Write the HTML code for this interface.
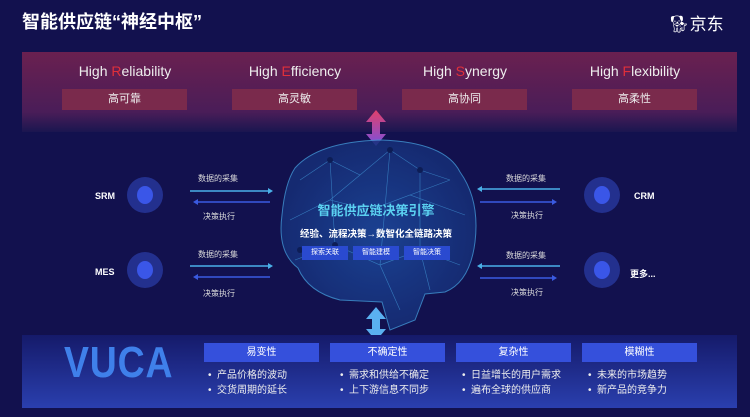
<!DOCTYPE html>
<html><head><meta charset="utf-8"><style>
*{margin:0;padding:0;box-sizing:border-box}
body{width:750px;height:417px;overflow:hidden;background:#12114e;font-family:"Liberation Sans","Noto Sans CJK SC",sans-serif;color:#fff;position:relative}
.a{position:absolute}
.top{left:22px;top:52px;width:715px;height:80px;background:linear-gradient(#6a2050,#4a1d58 75%,#1a1650)}
.h{top:63px;width:150px;text-align:center;font-size:14px;color:#eee}
.h b{color:#e0303a;font-weight:normal}
.tb{top:89px;width:125px;height:21px;background:#7a2a4c;font-size:11px;text-align:center;line-height:21px;color:#eee}
.bot{left:22px;top:335px;width:715px;height:73px;background:linear-gradient(#151a6a,#2a3fae)}
.bb{top:343px;width:115px;height:19px;background:#3550dc;font-size:10px;text-align:center;line-height:19px}
.bl{font-size:10px;line-height:15px;color:#eee}
.c{width:36px;height:36px;border-radius:50%;background:#23308e}
.c:after{content:"";position:absolute;left:10px;top:9px;width:16px;height:18px;border-radius:50%;background:#3a56e8}
.lab{font-size:9px;font-weight:bold}
.s{font-size:8px;color:#ddd}
</style></head><body>
<div class="a" style="left:22px;top:8px;font-size:18px;font-weight:bold">智能供应链“神经中枢”</div>
<div class="a" style="left:668px;top:10px;font-size:17px;color:#fff">🐕&#xFE0E;京东</div>
<div class="a top"></div>
<div class="a h" style="left:50px">High <b>R</b>eliability</div>
<div class="a h" style="left:220px">High <b>E</b>fficiency</div>
<div class="a h" style="left:390px">High <b>S</b>ynergy</div>
<div class="a h" style="left:560px">High <b>F</b>lexibility</div>
<div class="a tb" style="left:62px">高可靠</div>
<div class="a tb" style="left:232px">高灵敏</div>
<div class="a tb" style="left:402px">高协同</div>
<div class="a tb" style="left:572px">高柔性</div>
<svg class="a" style="left:0;top:0" width="750" height="417">
<defs><linearGradient id="g1" x1="0" y1="0" x2="0" y2="1"><stop offset="0" stop-color="#e0406a"/><stop offset="1" stop-color="#7a50e0"/></linearGradient>
<radialGradient id="br" cx=".5" cy=".5" r=".5"><stop offset="0" stop-color="#1d4a9e"/><stop offset="1" stop-color="#162f78"/></radialGradient></defs>
<path d="M376 110 L366 122 L372 122 L372 134 L366 134 L376 146 L386 134 L380 134 L380 122 L386 122Z" fill="url(#g1)"/>
<path d="M376 307 L366 319 L372 319 L372 329 L366 329 L376 341 L386 329 L380 329 L380 319 L386 319Z" fill="#5ab0f0"/>
<path d="M295 168 Q318 142 380 140 Q445 142 460 172 Q480 200 475 242 Q470 282 445 292 L425 294 L415 320 L390 330 L382 302 L340 300 Q308 292 298 268 Q277 252 282 215 Q285 183 295 168Z" fill="url(#br)" stroke="#3f90d0" stroke-width="1" opacity=".85"/>
<g stroke="#4aa8e8" stroke-width=".6" fill="none" opacity=".6">
<path d="M300 180 L330 160 L360 175 L390 150 L420 170 L450 180 M290 220 L330 200 L370 210 L410 195 L465 215 M295 260 L335 245 L380 265 L420 250 L460 265 M330 160 L335 245 M390 150 L380 265 M420 170 L420 250 M360 175 L330 200 M410 195 L450 180 M380 265 L400 310 M420 250 L430 290"/>
</g>
<g fill="#0d1d55"><circle cx="330" cy="160" r="3"/><circle cx="390" cy="150" r="3"/><circle cx="420" cy="170" r="3"/><circle cx="370" cy="210" r="3"/><circle cx="335" cy="245" r="3"/><circle cx="420" cy="250" r="3"/><circle cx="300" cy="250" r="3"/></g>
<g stroke-width="1.5">
<line x1="190" y1="191" x2="268" y2="191" stroke="#4ab0e8"/><path d="M268 188 L273 191 L268 194Z" fill="#4ab0e8"/>
<line x1="198" y1="202" x2="270" y2="202" stroke="#3a5ae0"/><path d="M198 199 L193 202 L198 205Z" fill="#3a5ae0"/>
<line x1="190" y1="266" x2="268" y2="266" stroke="#4ab0e8"/><path d="M268 263 L273 266 L268 269Z" fill="#4ab0e8"/>
<line x1="198" y1="277" x2="270" y2="277" stroke="#3a5ae0"/><path d="M198 274 L193 277 L198 280Z" fill="#3a5ae0"/>
<line x1="482" y1="189" x2="560" y2="189" stroke="#4ab0e8"/><path d="M482 186 L477 189 L482 192Z" fill="#4ab0e8"/>
<line x1="480" y1="202" x2="552" y2="202" stroke="#3a5ae0"/><path d="M552 199 L557 202 L552 205Z" fill="#3a5ae0"/>
<line x1="482" y1="266" x2="560" y2="266" stroke="#4ab0e8"/><path d="M482 263 L477 266 L482 269Z" fill="#4ab0e8"/>
<line x1="480" y1="278" x2="552" y2="278" stroke="#3a5ae0"/><path d="M552 275 L557 278 L552 281Z" fill="#3a5ae0"/>
</g>
</svg>
<div class="a" style="left:270px;top:200px;width:212px;text-align:center;font-size:13px;font-weight:bold;color:#5ad0f0">智能供应链决策引擎</div>
<div class="a" style="left:265px;top:226px;width:222px;text-align:center;font-size:9.5px;font-weight:bold">经验、流程决策→数智化全链路决策</div>
<div class="a" style="left:302px;top:246px;width:46px;height:14px;background:#2a4ad0;font-size:7px;text-align:center;line-height:14px">探索关联</div>
<div class="a" style="left:353px;top:246px;width:46px;height:14px;background:#2a4ad0;font-size:7px;text-align:center;line-height:14px">智能建模</div>
<div class="a" style="left:404px;top:246px;width:46px;height:14px;background:#2a4ad0;font-size:7px;text-align:center;line-height:14px">智能决策</div>
<div class="a c" style="left:127px;top:177px"></div><div class="a c" style="left:127px;top:252px"></div>
<div class="a c" style="left:584px;top:177px"></div><div class="a c" style="left:584px;top:252px"></div>
<div class="a lab" style="left:95px;top:191px">SRM</div><div class="a lab" style="left:95px;top:267px">MES</div>
<div class="a lab" style="left:634px;top:191px">CRM</div><div class="a lab" style="left:630px;top:267px">更多...</div>
<div class="a s" style="left:198px;top:173px">数据的采集</div><div class="a s" style="left:203px;top:211px">决策执行</div>
<div class="a s" style="left:198px;top:249px">数据的采集</div><div class="a s" style="left:203px;top:288px">决策执行</div>
<div class="a s" style="left:506px;top:173px">数据的采集</div><div class="a s" style="left:511px;top:210px">决策执行</div>
<div class="a s" style="left:506px;top:250px">数据的采集</div><div class="a s" style="left:511px;top:287px">决策执行</div>
<div class="a bot"></div>
<div class="a" style="left:64px;top:338px;font-size:44px;font-weight:bold;color:#3f80ea;transform:scaleX(.85);transform-origin:left;letter-spacing:1px">VUCA</div>
<div class="a bb" style="left:204px">易变性</div><div class="a bb" style="left:330px">不确定性</div>
<div class="a bb" style="left:456px">复杂性</div><div class="a bb" style="left:582px">模糊性</div>
<div class="a bl" style="left:208px;top:368px">•&nbsp; 产品价格的波动<br>•&nbsp; 交货周期的延长</div>
<div class="a bl" style="left:340px;top:368px">•&nbsp; 需求和供给不确定<br>•&nbsp; 上下游信息不同步</div>
<div class="a bl" style="left:462px;top:368px">•&nbsp; 日益增长的用户需求<br>•&nbsp; 遍布全球的供应商</div>
<div class="a bl" style="left:588px;top:368px">•&nbsp; 未来的市场趋势<br>•&nbsp; 新产品的竞争力</div>
</body></html>
